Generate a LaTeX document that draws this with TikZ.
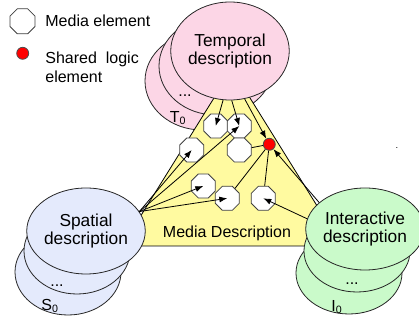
\documentclass[tikz,border=0pt]{standalone}
\usepackage{fontspec}
\setmainfont{Liberation Sans}
\usetikzlibrary{shapes.geometric,arrows.meta}
\definecolor{temppink}{RGB}{252,214,230}
\definecolor{spatblue}{RGB}{228,234,252}
\definecolor{intgreen}{RGB}{202,250,202}
\definecolor{mediayellow}{RGB}{255,250,160}

\begin{document}
\begin{tikzpicture}[x=0.75pt,y=-0.75pt,line width=0.6pt]
  \tikzstyle{media}= [regular polygon,regular polygon sides=8,draw=black!75,fill=white,minimum size=19.5pt,inner sep=0pt];
  \tikzstyle{logic}= [circle,draw=black!70,fill=red,minimum size=9pt,inner sep=0pt];
  \tikzstyle{desc}= [ellipse,draw=black!85,inner sep=0pt,align=center,font=\fontsize{13}{14}\selectfont];
  \tikzstyle{lbl}= [inner sep=0pt,font=\fontsize{12}{14.5}\selectfont];
  \tikzstyle{link}= [-{Latex[length=6pt,width=4.5pt]}];
  \useasboundingbox (0,0) rectangle (419,323);

  % legend
  \node[media,minimum size=20.3pt] (legmedia) at (22.5,21.3) {};
  \node[lbl,anchor=west] (legmediatxt) at (45,21) {Media element};
  \node[logic] (leglogic) at (22.7,53.3) {};
  \node[lbl,anchor=west,align=left] (leglogictxt) at (45,67) {Shared~~logic\\element};

  % temporal stack, back layers lie under the triangle
  \foreach \i/\dx/\dy in {2/28/30,1/14/15}{
    \node[desc,fill=temppink,minimum width=85.5pt,minimum height=73.5pt] (temporal\i) at (230-\dx,51+\dy) {};
  }
  \node[lbl] (tdots) at (185,96) {...};
  \node[lbl] (tzero) at (178,118) {T\textsubscript{0}};

  \draw[fill=mediayellow] (232,69) -- (122,246) -- (342,246) -- cycle;
  \node[lbl] (mediadesc) at (227,233) {Media Description};

  \node[desc,fill=temppink,minimum width=85.5pt,minimum height=73.5pt] (temporal) at (230,51) {Temporal\\description};

  % spatial stack
  \foreach \i/\dx/\dy in {2/18/41,1/9/20}{
    \node[desc,fill=spatblue,minimum width=79.5pt,minimum height=64.5pt] (spatial\i) at (86-\dx,231+\dy) {};
  }
  \node[desc,fill=spatblue,minimum width=79.5pt,minimum height=64.5pt] (spatial) at (86,231) {Spatial\\description};
  \node[lbl] (sdots) at (57,286) {...};
  \node[lbl] (szero) at (50,306) {S\textsubscript{0}};

  % interactive stack
  \foreach \i/\dx/\dy in {2/16/44,1/8/22}{
    \node[desc,fill=intgreen,minimum width=79.5pt,minimum height=61.5pt] (interactive\i) at (365-\dx,229+\dy) {};
  }
  \node[desc,fill=intgreen,minimum width=79.5pt,minimum height=61.5pt] (interactive) at (365,229) {Interactive\\description};
  \node[lbl] (idots) at (352,284) {...};
  \node[lbl] (izero) at (337,307) {I\textsubscript{0}};

  \node[lbl,font=\fontsize{7}{8}\selectfont] (speck) at (397,148) {.};

  % media elements and the shared logic element
  \foreach \n/\x/\y in {1/215.7/126,2/239.3/126,3/191.7/150,4/239.3/150,5/203.3/186,6/227.3/198.3,7/263.3/198.3}{
    \node[media] (m\n) at (\x,\y) {};
  }
  \node[logic] (shared) at (269.3,144.3) {};

  \draw[link] (temporal.-98) -- (m1.center);
  \draw[link] (temporal.-88) -- (m2.center);
  \draw[link] (temporal.-73) -- (shared);

  \coordinate (sp) at (spatial.20);
  \foreach \n in {2,3,5,6}{
    \draw[link] (sp) -- (m\n.center);
  }

  \draw[link] (interactive.150) -- (shared);
  \draw[link] (interactive.170) -- (m7.center);

  \foreach \n in {4,6,7}{
    \draw (shared) -- (m\n);
  }
\end{tikzpicture}
\end{document}
